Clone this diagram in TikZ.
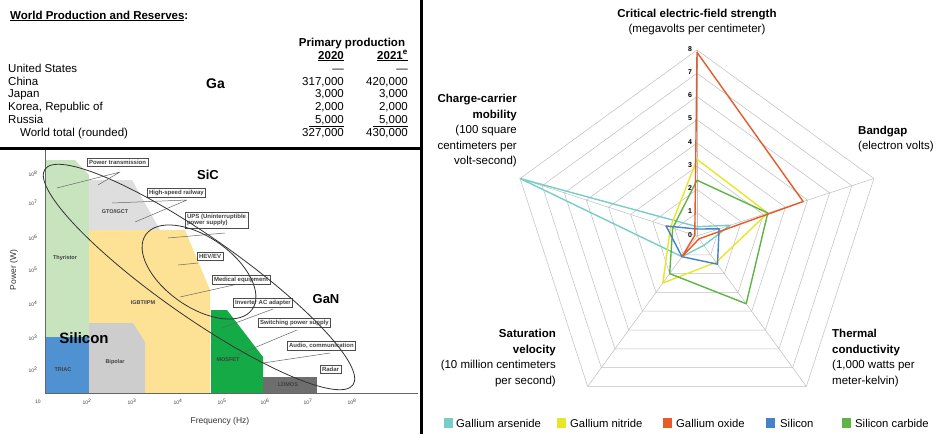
\documentclass[tikz,border=0pt]{standalone}
\usepackage{fontspec}
\setmainfont{Liberation Sans}
\usetikzlibrary{calc}
\begin{document}
\begin{tikzpicture}[x=1pt,y=-1pt,
  tb/.style={font=\fontsize{11.5}{12}\selectfont,inner sep=0pt},
  lb/.style={font=\fontsize{5.5}{6}\selectfont\bfseries,text=black!75,inner sep=0pt},
  bx/.style={draw=black!70,line width=0.5pt,fill=white,font=\fontsize{6}{6.5}\selectfont\bfseries,text=black!75,inner sep=1.8pt,align=left},
  ld/.style={draw=black!60,line width=0.5pt},
  rl/.style={font=\fontsize{11.5}{15.5}\selectfont,inner sep=0pt},
  tk/.style={font=\fontsize{7}{7}\selectfont\bfseries,inner sep=0pt},
  lg/.style={font=\fontsize{11.3}{12}\selectfont,inner sep=0pt,anchor=west},
]
\definecolor{cas}{RGB}{120,205,200}
\definecolor{cnit}{RGB}{232,230,40}
\definecolor{cox}{RGB}{232,90,40}
\definecolor{csi}{RGB}{70,130,200}
\definecolor{csic}{RGB}{95,180,70}
\definecolor{lgreen}{RGB}{200,228,190}
\definecolor{lgray}{RGB}{222,222,222}
\definecolor{yel}{RGB}{253,226,150}
\definecolor{mgray}{RGB}{205,205,205}
\definecolor{tri}{RGB}{80,145,210}
\definecolor{mos}{RGB}{20,170,70}
\definecolor{ldm}{RGB}{110,110,110}
\useasboundingbox (0,0) rectangle (940,434);
\fill[white] (0,0) rectangle (940,434);
% ---------- table ----------
\node[tb,anchor=base west,font=\fontsize{11.5}{12}\selectfont\bfseries] (title) at (10,19) {\underline{World Production and Reserves}:};
\node[tb,anchor=base,font=\fontsize{11.5}{12}\selectfont\bfseries] (pp) at (352,46) {Primary production};
\node[tb,anchor=base east,font=\fontsize{11.5}{12}\selectfont\bfseries] (y1) at (344,59) {\underline{2020}};
\node[tb,anchor=base east,font=\fontsize{11.5}{12}\selectfont\bfseries] (y2) at (408,59) {\underline{2021\textsuperscript{e}}};
\node[tb,anchor=base west] (r1) at (8,72) {United States};
\node[tb,anchor=base west] (r2) at (8,85) {China};
\node[tb,anchor=base west] (r3) at (8,97) {Japan};
\node[tb,anchor=base west] (r4) at (8,110) {Korea, Republic of};
\node[tb,anchor=base west] (r5) at (8,123) {Russia};
\node[tb,anchor=base west] (r6) at (20,136) {World total (rounded)};
\node[tb,anchor=base west,font=\fontsize{14}{14}\selectfont\bfseries] (ga) at (206,88) {Ga};
\node[tb,anchor=base east] (a1) at (344,72) {---};
\node[tb,anchor=base east] (a2) at (344,85) {317,000};
\node[tb,anchor=base east] (a3) at (344,97) {3,000};
\node[tb,anchor=base east] (a4) at (344,110) {2,000};
\node[tb,anchor=base east] (a5) at (344,123) {\underline{\ \ 5,000}};
\node[tb,anchor=base east] (a6) at (344,136) {327,000};
\node[tb,anchor=base east] (b1) at (408,72) {---};
\node[tb,anchor=base east] (b2) at (408,85) {420,000};
\node[tb,anchor=base east] (b3) at (408,97) {3,000};
\node[tb,anchor=base east] (b4) at (408,110) {2,000};
\node[tb,anchor=base east] (b5) at (408,123) {\underline{\ \ 5,000}};
\node[tb,anchor=base east] (b6) at (408,136) {430,000};
% separators
\draw[line width=3pt] (0,148) -- (421,148);
\draw[line width=3pt] (421,0) -- (421,434);
% ---------- power-frequency chart ----------
\fill[lgreen] (45,160) -- (75,160) -- (89,175) -- (89,337) -- (45,337) -- cycle;
\fill[lgray] (89,180) -- (132,180) -- (160,230) -- (89,230) -- cycle;
\fill[yel] (89,230) -- (185,230) -- (210,290) -- (210,393) -- (89,393) -- cycle;
\fill[mgray] (89,323) -- (133,323) -- (145,342) -- (145,393) -- (89,393) -- cycle;
\fill[tri] (45,337) rectangle (89,393);
\fill[mos] (211,310) -- (227,310) -- (263,357) -- (263,393) -- (211,393) -- cycle;
\fill[ldm] (263,377) rectangle (317,393);
\draw[black!60,line width=0.6pt] (45,150) -- (45,393) -- (418,393);
\foreach \yy/\ee in {174/8,203/7,238/6,270/5,304/4,338/3,370/2}
  \node[lb,font=\fontsize{5}{5}\selectfont] at (33,\yy) {10\textsuperscript{\ee}};
\node[lb,font=\fontsize{5}{5}\selectfont] at (38,402) {10};
\foreach \xx/\ee in {87/2,132/3,178/4,222/5,265/6,308/7,352/8}
  \node[lb,font=\fontsize{5}{5}\selectfont] at (\xx,402) {10\textsuperscript{\ee}};
\node[font=\fontsize{8.5}{9}\selectfont,text=black!80,rotate=90] (ylab) at (14,270) {Power (W)};
\node[font=\fontsize{8.5}{9}\selectfont,text=black!80] (xlab) at (220,421) {Frequency (Hz)};
% region labels
\node[lb] (thy) at (65,258) {Thyristor};
\node[lb] (gto) at (115,212) {GTO/IGCT};
\node[lb] (igbt) at (143,303) {IGBT/IPM};
\node[lb] (bip) at (115,362) {Bipolar};
\node[lb] (triac) at (63,370) {TRIAC};
\node[lb] (mosf) at (228,360) {MOSFET};
\node[lb] (ldmos) at (288,385) {LDMOS};
\node[font=\fontsize{15}{15}\selectfont\bfseries,inner sep=0pt] (silicon) at (84,338) {Silicon};
\node[font=\fontsize{13}{13}\selectfont\bfseries,inner sep=0pt] (sic) at (208,175) {SiC};
\node[font=\fontsize{13}{13}\selectfont\bfseries,inner sep=0pt] (gan) at (326,299) {GaN};
% leader lines
\coordinate (p1) at (57,188); \coordinate (p2) at (98,185);
\coordinate (h1) at (112,203); \coordinate (h2) at (135,222);
\coordinate (u1) at (168,238); \coordinate (e1) at (178,265);
\coordinate (m1) at (180,297); \coordinate (i1) at (222,328);
\coordinate (s1) at (237,355); \coordinate (au1) at (263,363);
\coordinate (p0) at (120,172); \coordinate (h0) at (187,200);
\coordinate (u0) at (225,233); \coordinate (e0) at (198,263);
\coordinate (m0) at (247,282); \coordinate (i0) at (273,309);
\coordinate (s0) at (297,330); \coordinate (au0) at (330,353);
\draw[ld] (p0) -- (p1) (p0) -- (p2) (h0) -- (h1) (h0) -- (h2) (u0) -- (u1) (e0) -- (e1)
  (m0) -- (m1) (i0) -- (i1) (s0) -- (s1) (au0) -- (au1);
% boxes
\node[bx,anchor=north west] (bpt) at (87,158) {Power transmission};
\node[bx,anchor=north west] (bhs) at (147,188) {High-speed railway};
\node[bx,anchor=north west] (bups) at (185,212) {UPS (Uninterruptible\\power supply)};
\node[bx,anchor=north west] (bhev) at (197,252) {HEV/EV};
\node[bx,anchor=north west] (bmed) at (212,275) {Medical equipment};
\node[bx,anchor=north west] (binv) at (233,298) {Inverter AC adapter};
\node[bx,anchor=north west] (bsw) at (258,318) {Switching power supply};
\node[bx,anchor=north west] (baud) at (287,341) {Audio, communication};
\node[bx,anchor=north west] (brad) at (320,365) {Radar};
% ellipses
\draw[black!80,line width=0.8pt,rotate around={-35:(199,277)}] (199,277) ellipse (188 and 40);
\draw[black!80,line width=0.8pt,rotate around={-35:(199,272)}] (199,272) ellipse (65 and 35);
% ---------- radar chart ----------
\begin{scope}[shift={(697,236)},x=23.25pt,y=23.25pt]
  \foreach \k in {1,...,8}
    \draw[black!25,line width=0.5pt] (90:\k) -- (18:\k) -- (-54:\k) -- (-126:\k) -- (162:\k) -- cycle;
  \foreach \a in {90,18,-54,-126,162}
    \draw[black!25,line width=0.5pt] (0,0) -- (\a:8);
  \foreach \k in {0,...,8}
    \node[tk] at ($(90:\k)+(-0.3,0.05)$) {\k};
  \draw[cas,line width=1.4pt,line join=round] (90:0.4) -- (18:1.5) -- (-54:0.5) -- (-126:1.1) -- (162:8) -- cycle;
  \draw[cnit,line width=1.4pt,line join=round] (90:3.3) -- (18:3.2) -- (-54:1.4) -- (-126:2.5) -- (162:1.2) -- cycle;
  \draw[csic,line width=1.4pt,line join=round] (90:2.4) -- (18:3.2) -- (-54:3.6) -- (-126:2.0) -- (162:1.1) -- cycle;
  \draw[csi,line width=1.4pt,line join=round] (90:0.3) -- (18:1.0) -- (-54:1.5) -- (-126:1.1) -- (162:1.4) -- cycle;
  \draw[cox,line width=1.4pt,line join=round] (90:7.9) -- (18:4.8) -- (-54:0.15) -- (-126:1.1) -- (162:0.1) -- cycle;
\end{scope}
\node[rl,font=\fontsize{11.5}{11.5}\selectfont\bfseries] (t1) at (697,15) {Critical electric-field strength};
\node[rl] (t2) at (697,30) {(megavolts per centimeter)};
\node[rl,anchor=west,font=\fontsize{11.5}{11.5}\selectfont\bfseries] (bg1) at (858,132) {Bandgap};
\node[rl,anchor=west] (bg2) at (858,147) {(electron volts)};
\node[rl,anchor=east,align=right] (mob) at (517,131) {\textbf{Charge-carrier}\\\textbf{mobility}\\(100 square\\centimeters per\\volt-second)};
\node[rl,anchor=east,align=right] (sat) at (556,358) {\textbf{Saturation}\\\textbf{velocity}\\(10 million centimeters\\per second)};
\node[rl,anchor=west,align=left] (thc) at (832,358) {\textbf{Thermal}\\\textbf{conductivity}\\(1,000 watts per\\meter-kelvin)};
% legend
\fill[cas] (444,418) rectangle (453,428);
\node[lg] (l1) at (456,423) {Gallium arsenide};
\fill[cnit] (557,418) rectangle (566,428);
\node[lg] (l2) at (570,423) {Gallium nitride};
\fill[cox] (663,418) rectangle (672,428);
\node[lg] (l3) at (676,423) {Gallium oxide};
\fill[csi] (766,418) rectangle (775,428);
\node[lg] (l4) at (780,423) {Silicon};
\fill[csic] (842,418) rectangle (851,428);
\node[lg] (l5) at (855,423) {Silicon carbide};
\end{tikzpicture}
\end{document}
